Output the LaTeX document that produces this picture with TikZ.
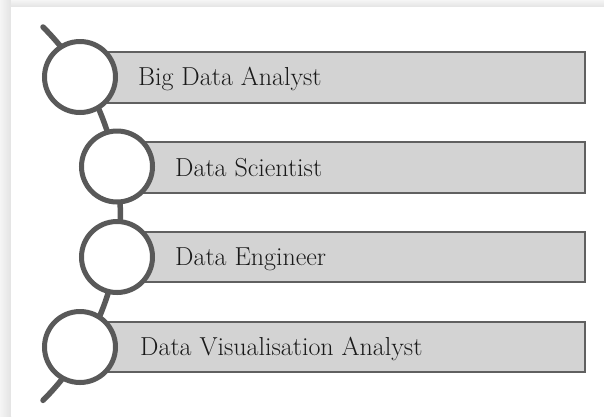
\documentclass[tikz,border=0pt]{standalone}
\usepackage{fontspec}
\definecolor{ringgray}{HTML}{595959}
\definecolor{barfill}{HTML}{D3D3D3}
\definecolor{barline}{HTML}{606060}
\definecolor{txtgray}{HTML}{1A1A1A}
\begin{document}
\begin{tikzpicture}[x=1pt,y=-1pt,
  ring/.style={circle, draw=ringgray, line width=5pt, fill=white, minimum size=71pt, inner sep=0pt},
  bar/.style={draw=barline, line width=1.2pt, fill=barfill},
  lbl/.style={anchor=base west, text=txtgray, inner sep=0pt, font=\fontsize{26}{31}\selectfont},
  spine/.style={draw=ringgray, line width=5.5pt, line cap=round}]
\useasboundingbox (0,0) rectangle (604,416);
% background and soft shadow
\fill[white] (0,0) rectangle (604,416);
\shade[left color=gray!8, right color=gray!22] (0,0) rectangle (11,416);
\shade[top color=gray!8, bottom color=gray!22] (11,0) rectangle (604,7);
\fill[white] (11,7) rectangle (604,416);
% spine arc
\coordinate (top) at (43,27);
\draw[spine] (top) arc[start angle=-45, end angle=45, radius=264] coordinate (bot);
% bars
\path[bar] (80,52) rectangle (585,103);
\path[bar] (117,142) rectangle (585,193);
\path[bar] (117,232) rectangle (585,282);
\path[bar] (80,322) rectangle (585,372);
% rings
\node[ring] (c1) at (80,77) {};
\node[ring] (c2) at (117,166.5) {};
\node[ring] (c3) at (117,257) {};
\node[ring] (c4) at (80,347) {};
% labels
\node[lbl] (t1) at (138,85) {Big Data Analyst};
\node[lbl] (t2) at (175,176) {Data Scientist};
\node[lbl] (t3) at (175,265) {Data Engineer};
\node[lbl] (t4) at (140,355) {Data Visualisation Analyst};
\end{tikzpicture}
\end{document}
